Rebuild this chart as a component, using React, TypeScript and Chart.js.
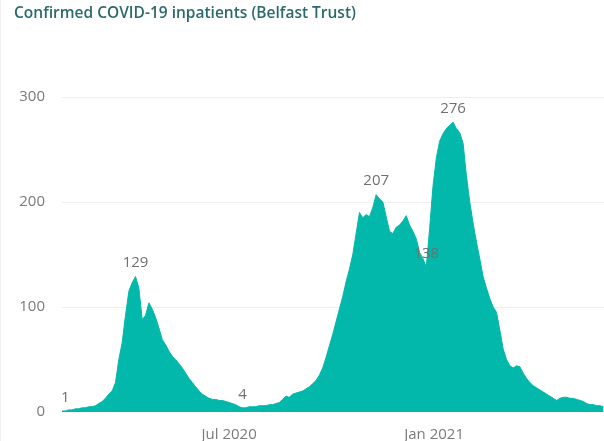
import React, { useEffect, useRef } from "react";
import { Chart, registerables } from "chart.js";

Chart.register(...registerables);

const TITLE = "Confirmed COVID-19 inpatients (Belfast Trust)";
const START_DATE = "2020-02-02";
const STEP_DAYS = 3;
const INPATIENTS = [
  1, 1, 2, 2, 3, 3, 4, 4, 5, 5,
  6, 8, 10, 13, 17, 20, 28, 50, 66, 92,
  115, 123, 129, 118, 88, 92, 104, 98, 90, 80,
  69, 64, 58, 53, 50, 46, 42, 37, 32, 28,
  24, 20, 17, 15, 13, 12, 12, 11, 11, 10,
  9, 8, 7, 5, 4, 4, 5, 5, 5, 6,
  6, 6, 7, 7, 8, 9, 12, 15, 14, 17,
  18, 19, 20, 22, 24, 27, 30, 35, 42, 52,
  63, 74, 86, 98, 110, 124, 136, 150, 170, 190,
  185, 188, 186, 195, 207, 203, 200, 186, 172, 170,
  176, 178, 182, 187, 178, 172, 165, 152, 146, 138,
  175, 215, 242, 258, 265, 270, 273, 276, 270, 266,
  256, 225, 200, 180, 162, 146, 129, 118, 108, 100,
  95, 78, 60, 50, 44, 42, 44, 43, 37, 32,
  28, 25, 23, 21, 19, 17, 15, 13, 11, 13,
  14, 14, 13, 13, 12, 11, 10, 8, 7, 7,
  6, 6, 5,
];
const LABELED_INDICES = [1, 22, 54, 94, 109, 117];
const X_TICK_DATES = ["2020-07-01", "2021-01-01"];
const X_TICK_LABELS = ["Jul 2020", "Jan 2021"];
const Y_TICKS = [0, 100, 200, 300];
const Y_MAX = 320;
const X_MAX_DAYS = 486.5;

const DAY_MS = 86400000;
const dayOffset = (d: string) =>
  Math.round((Date.parse(d + "T00:00:00Z") - Date.parse(START_DATE + "T00:00:00Z")) / DAY_MS);

const AREA = "#01B8AA";
const TEXT = "#7a7a7a";
const FONT = "'Open Sans', 'Noto Sans', sans-serif";

const dataLabels = {
  id: "dataLabels",
  afterDatasetsDraw(chart: any) {
    const meta = chart.getDatasetMeta(0);
    const ctx = chart.ctx;
    ctx.save();
    ctx.font = `15px ${FONT}`;
    ctx.fillStyle = "#707070";
    ctx.textAlign = "center";
    ctx.textBaseline = "bottom";
    LABELED_INDICES.forEach((i) => {
      const p = meta.data[i];
      if (!p) return;
      ctx.fillText(String(INPATIENTS[i]), p.x, p.y - 6);
    });
    ctx.restore();
  },
};

export default function App() {
  const ref = useRef<HTMLCanvasElement>(null);
  useEffect(() => {
    if (!ref.current) return;
    const xTickVals = X_TICK_DATES.map(dayOffset);
    const chart = new Chart(ref.current, {
      type: "line",
      data: {
        datasets: [
          {
            data: INPATIENTS.map((v, i) => ({ x: i * STEP_DAYS, y: v })),
            fill: "origin",
            backgroundColor: AREA,
            borderColor: AREA,
            borderWidth: 1,
            pointRadius: 0,
            tension: 0,
          },
        ],
      },
      options: {
        animation: false,
        responsive: false,
        devicePixelRatio: 1,
        layout: { padding: { top: 76, left: 0, right: 0, bottom: 0 } },
        plugins: { legend: { display: false }, tooltip: { enabled: false } },
        scales: {
          x: {
            type: "linear",
            min: 0,
            max: X_MAX_DAYS,
            grid: { display: false },
            border: { display: false },
            afterBuildTicks: (s: any) => {
              s.ticks = xTickVals.map((v) => ({ value: v }));
            },
            afterFit: (s: any) => {
              s.height = 29;
            },
            ticks: {
              autoSkip: false,
              maxRotation: 0,
              padding: 6,
              color: TEXT,
              font: { family: FONT, size: 15 },
              callback: (v: any) => {
                const k = xTickVals.indexOf(Number(v));
                return k >= 0 ? X_TICK_LABELS[k] : "";
              },
            },
          },
          y: {
            min: 0,
            max: Y_MAX,
            border: { display: false },
            grid: {
              drawTicks: false,
              color: (c: any) => (c.tick && c.tick.value === 0 ? "rgba(0,0,0,0)" : "#eeeeee"),
            },
            afterBuildTicks: (s: any) => {
              s.ticks = Y_TICKS.map((v) => ({ value: v }));
            },
            afterFit: (s: any) => {
              s.width = 62;
            },
            ticks: {
              padding: 17,
              color: TEXT,
              font: { family: FONT, size: 15 },
            },
          },
        },
      },
      plugins: [dataLabels],
    });
    return () => chart.destroy();
  }, []);

  return (
    <div style={{ position: "fixed", left: 0, top: 0, width: 604, height: 441, background: "#fff", overflow: "hidden" }}>
      <canvas ref={ref} width={604} height={441} style={{ position: "absolute", left: 0, top: 0 }} />
      <div style={{ position: "absolute", left: 0, top: 0, width: 1, height: 441, background: "#f0f0f0" }} />
      <div
        style={{
          position: "absolute",
          left: 14,
          top: 1,
          fontFamily: FONT,
          fontSize: 15.5,
          fontWeight: 600,
          lineHeight: "22px",
          color: "#2a6a6c",
          whiteSpace: "nowrap",
        }}
      >
        {TITLE}
      </div>
    </div>
  );
}
